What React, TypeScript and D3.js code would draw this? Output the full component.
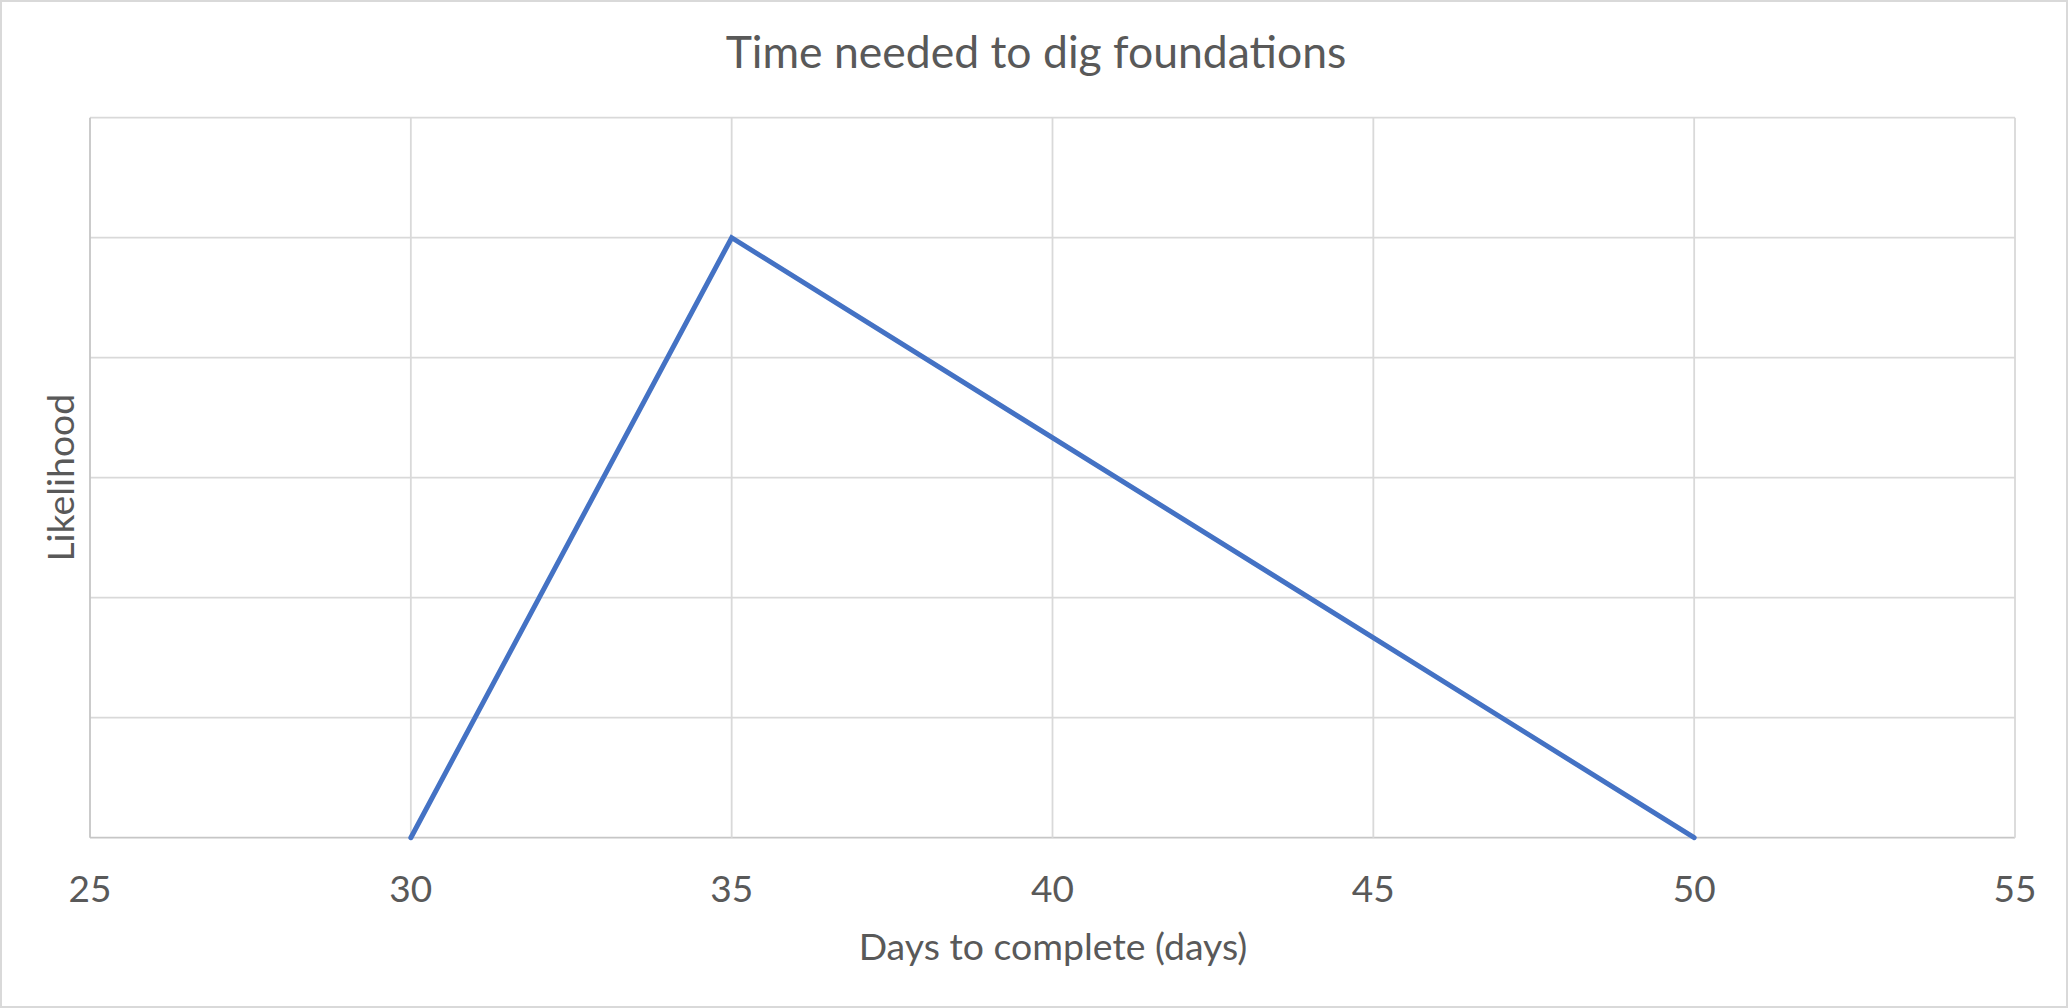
import React from "react";
import * as d3 from "d3";

const title = "Time needed to dig foundations";
const xAxisTitle = "Days to complete (days)";
const yAxisTitle = "Likelihood";

const xTicks = [25, 30, 35, 40, 45, 50, 55];
const yTicks = [0, 0.02, 0.04, 0.06, 0.08, 0.1, 0.12];

const days = [30, 35, 50];
const likelihood = [0, 0.1, 0];

const W = 2068;
const H = 1008;
const FONT = "Lato, 'Open Sans', sans-serif";
const TEXT = "#595959";
const GRID = "#d9d9d9";

export default function App() {
  const x = d3.scaleLinear().domain([25, 55]).range([90, 2015]);
  const y = d3.scaleLinear().domain([0, 0.12]).range([837.7, 117.7]);
  const line = d3
    .line<number>()
    .x((_, i) => x(days[i]))
    .y((d) => y(d));
  const path = line(likelihood) || "";

  return (
    <div style={{ position: "fixed", left: 0, top: 0 }}>
      <svg width={W} height={H} style={{ display: "block", background: "#fff" }}>
        <rect x={1} y={1} width={W - 2} height={H - 2} fill="#fff" stroke={GRID} strokeWidth={2} />
        {yTicks.map((t) => (
          <line key={"h" + t} x1={x(25)} x2={x(55)} y1={y(t)} y2={y(t)} stroke={t === 0 ? "#c6c6c6" : GRID} strokeWidth={1.8} />
        ))}
        {xTicks.map((t) => (
          <line key={"v" + t} x1={x(t)} x2={x(t)} y1={y(0.12)} y2={y(0)} stroke={t === 25 ? "#c6c6c6" : GRID} strokeWidth={1.8} />
        ))}
        <path d={path} fill="none" stroke="#4472C4" strokeWidth={5} strokeLinejoin="miter" strokeLinecap="round" />
        {xTicks.map((t) => (
          <text key={"l" + t} x={x(t)} y={902} textAnchor="middle" fontFamily={FONT} fontSize={37} fill={TEXT}>
            {t}
          </text>
        ))}
        <text x={1036} y={68} textAnchor="middle" fontFamily={FONT} fontSize={44.5} fill={TEXT}>
          {title}
        </text>
        <text x={1053} y={960} textAnchor="middle" fontFamily={FONT} fontSize={37.4} fill={TEXT}>
          {xAxisTitle}
        </text>
        <text
          transform={`translate(74, ${(y(0) + y(0.12)) / 2}) rotate(-90)`}
          textAnchor="middle"
          fontFamily={FONT}
          fontSize={37.4}
          fill={TEXT}
        >
          {yAxisTitle}
        </text>
      </svg>
    </div>
  );
}
